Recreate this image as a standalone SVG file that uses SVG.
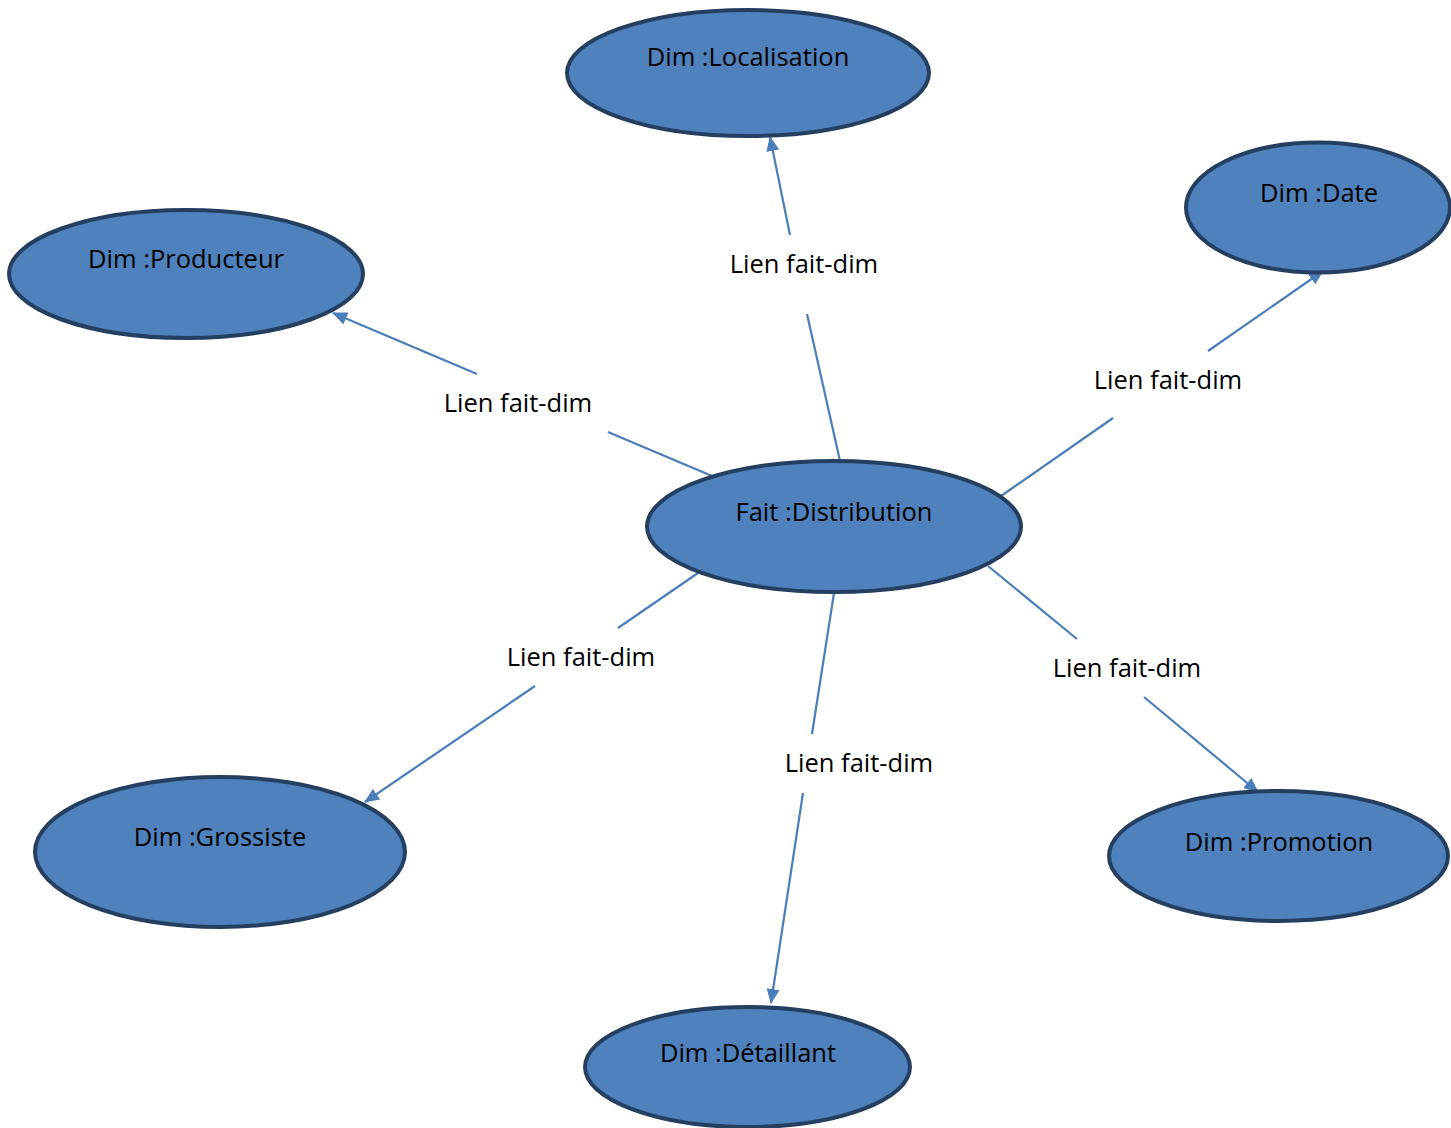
<svg xmlns="http://www.w3.org/2000/svg" width="1451" height="1128" viewBox="0 0 1451 1128">
  <style>
    .node ellipse { fill: #4f81bd; stroke: #243f60; stroke-width: 4; }
    .node text, .lbl { font-family: "Open Sans", Lato, sans-serif; font-size: 25.5px; fill: #000; text-anchor: middle; }
    .edge { stroke: #4a7ebb; stroke-width: 2.2; fill: none; }
  </style>
  <defs>
    <marker id="arrow" viewBox="0 0 15 13" refX="14" refY="6.5" markerWidth="15" markerHeight="13" markerUnits="userSpaceOnUse" orient="auto">
      <path d="M0,0 L15,6.5 L0,13 z" fill="#4a7ebb"/>
    </marker>
  </defs>
  <rect width="1451" height="1128" fill="#fff"/>

  <!-- connectors: each split around its label -->
  <g id="connectors">
    <g id="e-localisation">
      <line class="edge" x1="840" y1="461" x2="807" y2="314"/>
      <line class="edge" x1="790" y1="235" x2="770" y2="137" marker-end="url(#arrow)"/>
      <text class="lbl" x="804" y="273">Lien fait-dim</text>
    </g>
    <g id="e-producteur">
      <line class="edge" x1="712" y1="476" x2="608" y2="432"/>
      <line class="edge" x1="477" y1="374" x2="333" y2="313" marker-end="url(#arrow)"/>
      <text class="lbl" x="518" y="412">Lien fait-dim</text>
    </g>
    <g id="e-date">
      <line class="edge" x1="1001" y1="496" x2="1113" y2="418"/>
      <line class="edge" x1="1208" y1="351" x2="1323" y2="271" marker-end="url(#arrow)"/>
      <text class="lbl" x="1168" y="389">Lien fait-dim</text>
    </g>
    <g id="e-grossiste">
      <line class="edge" x1="698" y1="573" x2="618" y2="628"/>
      <line class="edge" x1="535" y1="686" x2="365" y2="802" marker-end="url(#arrow)"/>
      <text class="lbl" x="581" y="666">Lien fait-dim</text>
    </g>
    <g id="e-detaillant">
      <line class="edge" x1="834" y1="593" x2="812" y2="734"/>
      <line class="edge" x1="803" y1="793" x2="771" y2="1003" marker-end="url(#arrow)"/>
      <text class="lbl" x="859" y="772">Lien fait-dim</text>
    </g>
    <g id="e-promotion">
      <line class="edge" x1="988" y1="566" x2="1077" y2="639"/>
      <line class="edge" x1="1144" y1="697" x2="1258" y2="792" marker-end="url(#arrow)"/>
      <text class="lbl" x="1127" y="677">Lien fait-dim</text>
    </g>
  </g>

  <g id="n-localisation" class="node">
    <ellipse cx="748" cy="73" rx="181" ry="63"/>
    <text x="748" y="66">Dim :Localisation</text>
  </g>
  <g id="n-date" class="node">
    <ellipse cx="1318" cy="207.5" rx="132" ry="65"/>
    <text x="1319" y="202">Dim :Date</text>
  </g>
  <g id="n-producteur" class="node">
    <ellipse cx="186" cy="274" rx="177" ry="64"/>
    <text x="186" y="268">Dim :Producteur</text>
  </g>
  <g id="n-distribution" class="node">
    <ellipse cx="834" cy="526.5" rx="187" ry="65.5"/>
    <text x="834" y="521">Fait :Distribution</text>
  </g>
  <g id="n-grossiste" class="node">
    <ellipse cx="220" cy="852" rx="185" ry="75"/>
    <text x="220" y="846">Dim :Grossiste</text>
  </g>
  <g id="n-promotion" class="node">
    <ellipse cx="1278.5" cy="856" rx="169.5" ry="65"/>
    <text x="1279" y="851">Dim :Promotion</text>
  </g>
  <g id="n-detaillant" class="node">
    <ellipse cx="747.5" cy="1067" rx="162.5" ry="60"/>
    <text x="748" y="1062">Dim :Détaillant</text>
  </g>
</svg>
